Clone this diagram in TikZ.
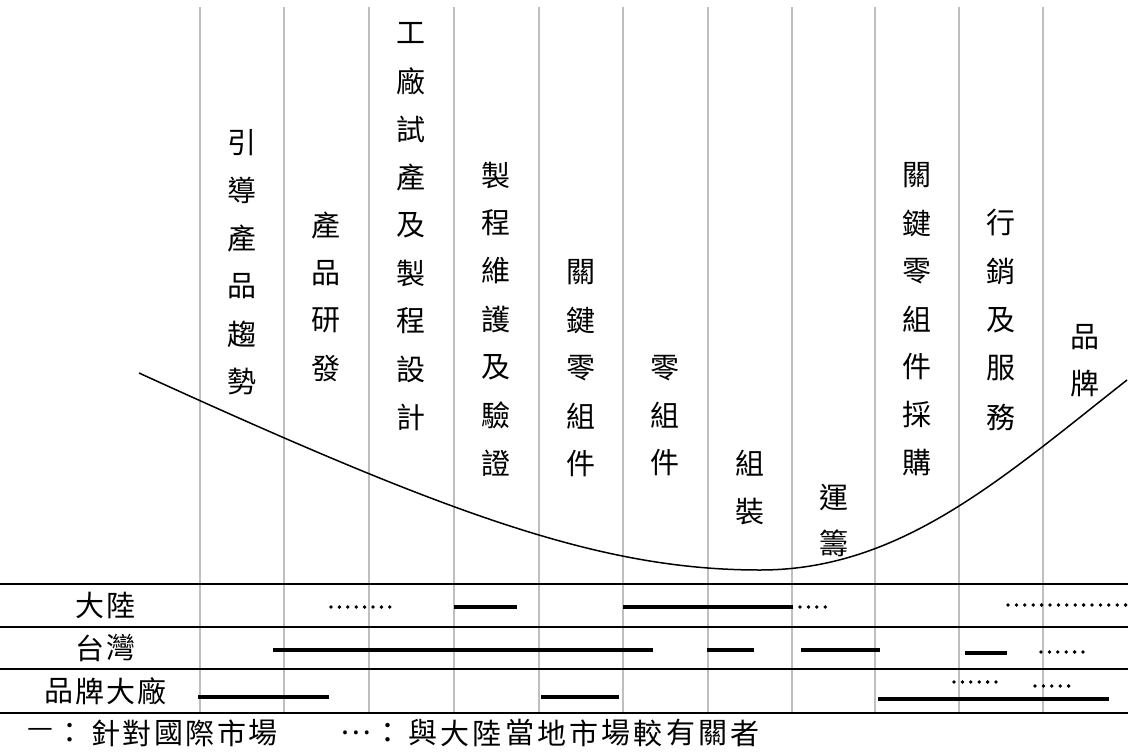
\documentclass[tikz,border=0pt]{standalone}
\usepackage{fontspec}
\setmainfont{Noto Sans CJK TC}
\tikzset{
  ch/.style={inner sep=0pt, font=\fontsize{29}{30}\selectfont},
  lab/.style={inner sep=0pt, font=\fontsize{29}{30}\selectfont},
  grid/.style={draw=black!25, line width=2pt},
  rule/.style={draw=black, line width=2.2pt},
  bar/.style={draw=black, line width=4pt},
  dots/.style={draw=black, line width=3.8pt, line cap=round, dash pattern=on 0pt off 8.4pt},
  curve/.style={draw=black, line width=1.5pt}
}
\newcommand\vcol[5]{\foreach \c [count=\i] in {#5} {\node[ch] (#1-\i) at (#2,{#3+(\i-1)*#4}) {\c};}}
\newcommand\hrow[3]{\foreach \c/\x [count=\i] in {#3} {\node[lab] (#1-\i) at (\x,#2) {\c};}}
\begin{document}
\begin{tikzpicture}[x=1pt,y=-1pt]
\useasboundingbox (0,0) rectangle (1128,755);
% vertical grid lines
\foreach \x [count=\k] in {200,284,369,454,539,623,708,792,875,959,1043}
  {\coordinate (vt\k) at (\x,7); \coordinate (vb\k) at (\x,713); \draw[grid] (vt\k) -- (vb\k);}
% curve
\coordinate (c0) at (139,373);
\coordinate (cm) at (760,570);
\coordinate (c1) at (1127,380);
\draw[curve] (c0) .. controls (450,515) and (600,570) .. (cm)
                  .. controls (900,570) and (1000,480) .. (c1);
% column labels
\vcol{ca}{242}{143}{47.8}{引,導,產,品,趨,勢}
\vcol{cb}{326}{225}{47.7}{產,品,研,發}
\vcol{cc}{411}{33}{48}{工,廠,試,產,及,製,程,設,計}
\vcol{cd}{496}{175}{48}{製,程,維,護,及,驗,證}
\vcol{ce}{581}{272}{48}{關,鍵,零,組,件}
\vcol{cf}{665}{368}{47.5}{零,組,件}
\vcol{cg}{750}{463}{49}{組,裝}
\vcol{ch}{834}{497}{46}{運,籌}
\vcol{ci}{917}{175}{48}{關,鍵,零,組,件,採,購}
\vcol{cj}{1001}{223}{48.5}{行,銷,及,服,務}
\vcol{ck}{1085}{337}{46}{品,牌}
% horizontal rules
\foreach \y [count=\k] in {584,627,669,713}
  {\coordinate (hl\k) at (0,\y); \coordinate (hr\k) at (1128,\y); \draw[rule] (hl\k) -- (hr\k);}
% row labels
\hrow{ra}{605}{大/89.5, 陸/120.5}
\hrow{rb}{648}{台/89.5, 灣/120.5}
\hrow{rc}{691}{品/58.5, 牌/89.5, 大/120.5, 廠/151.5}
% row 1 bars
\draw[dots] (331,607) -- (397,607);
\draw[bar] (454,607) -- (517,607);
\draw[bar] (623,607) -- (793,607);
\draw[dots] (800,607) -- (826,607);
\draw[dots] (1008,605) -- (1128,605);
% row 2 bars
\draw[bar] (273,650) -- (653,650);
\draw[bar] (707,650) -- (754,650);
\draw[bar] (801,650) -- (880,650);
\draw[bar] (965,653) -- (1007,653);
\draw[dots] (1041,652) -- (1084,652);
% row 3 bars
\draw[bar] (198,697) -- (329,697);
\draw[bar] (541,697) -- (619,697);
\draw[bar] (878,699) -- (1109,699);
\draw[dots] (954,682) -- (997,682);
\draw[dots] (1035,686) -- (1070,686);
% legend
\hrow{la}{733}{—/40, ：/70, 針/106, 對/137, 國/169, 際/200, 市/232, 場/263}
\hrow{lb}{733}{⋯/356, ：/388, 與/423, 大/455, 陸/487, 當/520, 地/552, 市/584, 場/616, 較/648, 有/681, 關/713, 者/745}
\end{tikzpicture}
\end{document}
